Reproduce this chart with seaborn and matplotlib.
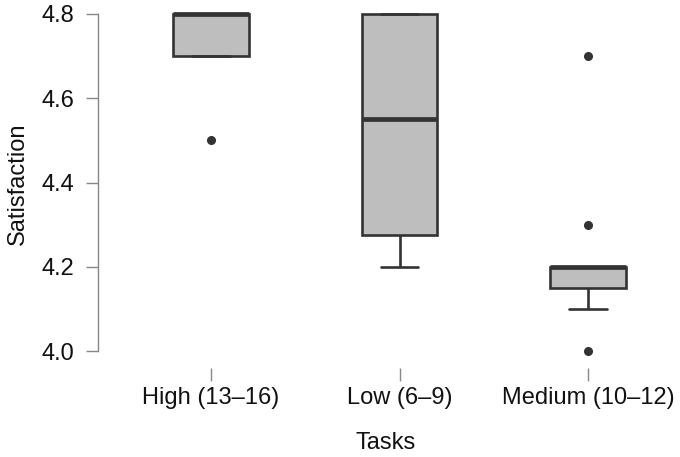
import matplotlib

matplotlib.use("Agg")

import matplotlib.pyplot as plt
import pandas as pd
import seaborn as sns

# category order as in the reference (alphabetical)
groups = ["High (13–16)", "Low (6–9)", "Medium (10–12)"]

# raw satisfaction scores per group, chosen to reproduce the box statistics
high_scores = [4.5, 4.7, 4.8, 4.8, 4.8]
low_scores = [4.2, 4.3, 4.8, 4.8]
medium_scores = [4.0, 4.1, 4.1, 4.2, 4.2, 4.2, 4.2, 4.2, 4.2, 4.3, 4.7]

y_ticks = [4.0, 4.2, 4.4, 4.6, 4.8]


def main() -> None:
    df = pd.DataFrame(
        {
            "Tasks": [groups[0]] * len(high_scores)
            + [groups[1]] * len(low_scores)
            + [groups[2]] * len(medium_scores),
            "Satisfaction": high_scores + low_scores + medium_scores,
        }
    )

    sns.set_theme(style="ticks")
    plt.rcParams["font.family"] = ["Liberation Sans", "DejaVu Sans"]

    fig = plt.figure(figsize=(6.8, 4.57), dpi=100)
    ax = fig.add_axes([98 / 680, (457 - 368) / 457, 575 / 680, 368 / 457])

    edge = "#333333"
    sns.boxplot(
        data=df,
        x="Tasks",
        y="Satisfaction",
        order=groups,
        color="#BEBEBE",
        saturation=1,
        linecolor=edge,
        linewidth=1.9,
        width=0.4,
        capwidths=0.2,
        medianprops=dict(linewidth=3.4, color=edge),
        flierprops=dict(
            marker="o",
            markerfacecolor=edge,
            markeredgecolor=edge,
            markersize=5.5,
        ),
        ax=ax,
    )

    ax.set_xlim(-0.6, 2.45)
    ax.set_ylim(3.960, 4.8332)
    ax.set_yticks(y_ticks)
    ax.set_yticklabels([f"{v:.1f}" for v in y_ticks])

    for side in ["top", "right", "bottom"]:
        ax.spines[side].set_visible(False)
    ax.spines["left"].set_bounds(4.0, 4.8)
    ax.spines["left"].set_color("#888888")
    ax.spines["left"].set_linewidth(1.0)

    ax.tick_params(axis="both", colors="#888888", length=9, width=1.0,
                   labelsize=17, labelcolor="#111111")
    ax.tick_params(axis="x", pad=5)
    ax.tick_params(axis="y", pad=8)

    ax.set_xlabel("Tasks", fontsize=17, color="#111111", labelpad=16)
    ax.set_ylabel("Satisfaction", fontsize=17, color="#111111", labelpad=9)

    fig.savefig("out.png", dpi=100)


if __name__ == "__main__":
    main()
